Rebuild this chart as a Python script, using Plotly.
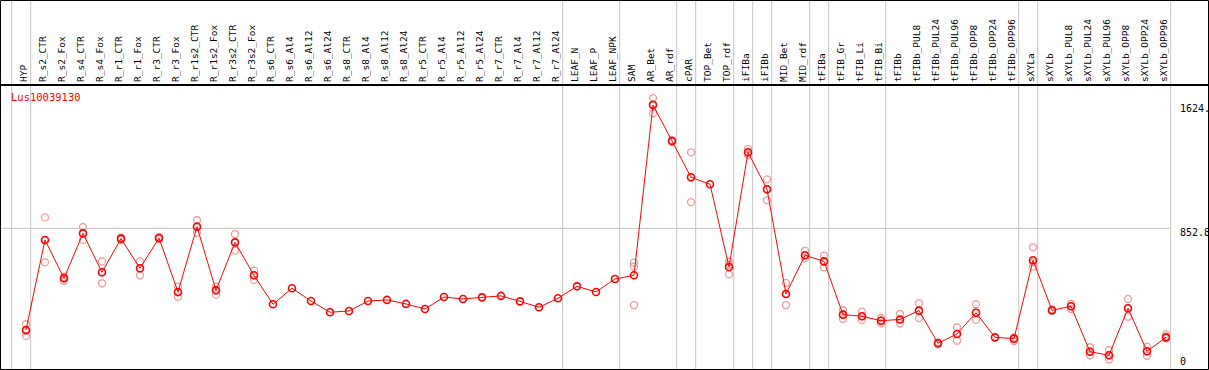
import plotly.graph_objects as go

categories = ["HYP", "R_s2_CTR", "R_s2_Fox", "R_s4_CTR", "R_s4_Fox", "R_r1_CTR", "R_r1_Fox",
              "R_r3_CTR", "R_r3_Fox", "R_r1s2_CTR", "R_r1s2_Fox", "R_r3s2_CTR", "R_r3s2_Fox",
              "R_s6_CTR", "R_s6_Al4", "R_s6_Al12", "R_s6_Al24", "R_s8_CTR", "R_s8_Al4",
              "R_s8_Al12", "R_s8_Al24", "R_r5_CTR", "R_r5_Al4", "R_r5_Al12", "R_r5_Al24",
              "R_r7_CTR", "R_r7_Al4", "R_r7_Al12", "R_r7_Al24", "LEAF_N", "LEAF_P", "LEAF_NPK",
              "SAM", "AR_Bet", "AR_rdf", "cPAR", "TOP_Bet", "TOP_rdf", "iFIBa", "iFIBb",
              "MID_Bet", "MID_rdf", "tFIBa", "tFIB_Gr", "tFIB_Li", "tFIB_Bi", "tFIBb",
              "tFIBb_PUL8", "tFIBb_PUL24", "tFIBb_PUL96", "tFIBb_OPP8", "tFIBb_OPP24",
              "tFIBb_OPP96", "sXYLa", "sXYLb", "sXYLb_PUL8", "sXYLb_PUL24", "sXYLb_PUL96",
              "sXYLb_OPP8", "sXYLb_OPP24", "sXYLb_OPP96"]

mean_values = [217, 780, 540, 821, 578, 788, 603, 792, 455, 863, 465, 765, 559,
               378, 478, 398, 328, 336, 398, 405, 380, 348, 423, 411, 421, 430, 396, 359, 415,
               490, 455, 536, 559, 1624, 1399, 1172, 1128, 611, 1328, 1097, 442, 684,
               646, 313, 303, 275, 283, 338, 134, 192, 325, 171, 163,
               653, 340, 365, 81, 59, 353, 84, 171]

rep_hi = [253, 921, 550, 861, 646, 795, 646, 798, 488, 903, 488, 817, 588,
          None, None, None, None, None, None, None, None, None, None, None, None, None, None, None, None,
          None, None, None, 638, 1667, 1405, 1328, None, 644, 1349, 1159, 511, 713,
          682, 342, 332, 292, 317, 384, 140, 234, 378, None, 170,
          734, 345, 380, 109, 92, 411, 113, 190]
rep_mid = [210, 779, 545, 822, 578, 788, 603, 792, 452, 862, 468, 765, 559,
           None, None, None, None, None, None, None, None, None, None, None, None, None, None, None, None,
           None, None, None, 613, 1630, 1399, 1172, None, 625, 1320, 1097, 442, 684,
           646, 313, 303, 275, 283, 338, 134, 192, 325, None, 163,
           640, 340, 365, 81, 59, 353, 84, 175]
rep_lo = [180, 640, 525, 780, 509, 780, 559, 786, 425, 825, 438, 713, 530,
          None, None, None, None, None, None, None, None, None, None, None, None, None, None, None, None,
          None, None, None, 373, 1572, 1393, 1017, None, 565, 1310, 1028, 373, 665,
          609, 286, 280, 259, 259, 292, 128, 150, 280, None, 148,
          613, 335, 348, 59, 34, 300, 56, 165]

separator_after = [0, 28, 31, 34, 35, 37, 38, 39, 41, 42, 45, 52, 53, 60]
y_ticks = [0, 852.8, 1624]
y_ticktext = ["0", "852.8", "1624."]
gene_name = "Lus10039130"

FONT = "DejaVu Sans Mono"
W, H = 1209, 370
PL, PR, PT, PB = 0, 1170, 85, 369  # plot area in pixels

idx = list(range(len(categories)))
rx, ry = [], []
for i in idx:
    for arr in (rep_hi, rep_mid, rep_lo):
        if arr[i] is not None:
            rx.append(i)
            ry.append(arr[i])

fig = go.Figure()
fig.add_trace(go.Scatter(x=rx, y=ry, mode="markers", hoverinfo="skip",
                         marker=dict(symbol="circle-open", size=7, color="#f09a9a",
                                     line=dict(width=1.3, color="#f09a9a"))))
fig.add_trace(go.Scatter(x=idx, y=mean_values, mode="lines+markers",
                         line=dict(color="#ff0000", width=1),
                         marker=dict(symbol="circle-open", size=7, color="#ff0000",
                                     line=dict(width=1.6, color="#ff0000"))))

def px2paper_x(px):
    return (px - PL) / (PR - PL)

def py2paper_y(py):
    return (PB - py) / (PB - PT)

shapes = []
# grid line at 852.8
shapes.append(dict(type="line", xref="paper", yref="y", x0=0, x1=1, y0=852.8, y1=852.8,
                   line=dict(color="#c4c4c4", width=1), layer="below"))
# vertical separators (full height)
step = 19.0
x_first = 26.0
for k in [-1] + separator_after:
    px = x_first + step * k + 4.7
    xp = px2paper_x(px)
    shapes.append(dict(type="line", xref="paper", yref="paper", x0=xp, x1=xp,
                       y0=py2paper_y(369), y1=py2paper_y(0),
                       line=dict(color="#c4c4c4", width=1), layer="below"))
# black line separating labels and plot
shapes.append(dict(type="line", xref="paper", yref="paper", x0=px2paper_x(0), x1=px2paper_x(1209),
                   y0=py2paper_y(85), y1=py2paper_y(85), line=dict(color="black", width=2)))
# outer frame
shapes.append(dict(type="rect", xref="paper", yref="paper", x0=px2paper_x(0.5), x1=px2paper_x(1208.5),
                   y0=py2paper_y(369.5), y1=py2paper_y(0.5), line=dict(color="black", width=1)))

x_lo = (PL - x_first) / step
x_hi = (PR - x_first) / step
y_per_px = 852.8 / (364.7 - 228.3)
y_lo = -(PB - 364.7) * y_per_px
y_hi = (364.7 - PT) * y_per_px

# y value labels on the right, just below their value line (the 0 label is kept inside the frame)
annotations = []
for v, t in zip(y_ticks, y_ticktext):
    annotations.append(dict(text=t, xref="paper", yref="y", x=px2paper_x(1178), y=v,
                            xanchor="left", yanchor="middle", yshift=(3 if v == 0 else -4),
                            showarrow=False, font=dict(family=FONT, size=10, color="black")))
annotations.append(dict(text=gene_name, xref="paper", yref="paper", x=px2paper_x(9), y=py2paper_y(97),
                        xanchor="left", yanchor="middle", showarrow=False,
                        font=dict(family=FONT, size=10.5, color="#ff0000")))

fig.update_layout(
    width=W, height=H,
    margin=dict(l=PL, r=W - PR, t=PT, b=H - PB, pad=0),
    paper_bgcolor="white", plot_bgcolor="white",
    showlegend=False,
    shapes=shapes,
    font=dict(family=FONT, size=10, color="black"),
    xaxis=dict(range=[x_lo, x_hi], side="top", tickmode="array", tickvals=idx, ticktext=categories,
               tickangle=-90, ticks="", showgrid=False, zeroline=False, showline=False,
               tickfont=dict(family=FONT, size=9.5, color="black"),
               ticklabelshift=-2, ticklabelstandoff=2),
    yaxis=dict(range=[y_lo, y_hi], showticklabels=False, ticks="", showgrid=False,
               zeroline=False, showline=False),
    annotations=annotations,
)

fig.write_html("out.html", config={"displayModeBar": False},
               post_script="document.body.style.margin='0px';document.body.style.padding='0px';"
                           "document.body.style.overflow='hidden';")
